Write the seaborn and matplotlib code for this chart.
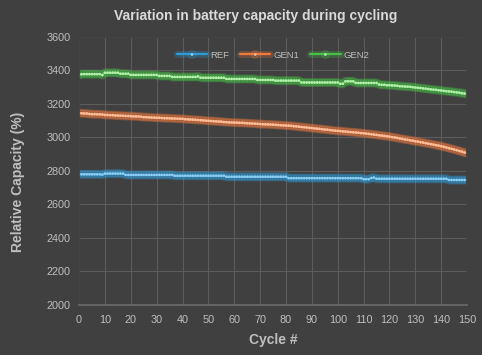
import numpy as np
import pandas as pd
import matplotlib
matplotlib.use("Agg")
import matplotlib.pyplot as plt
import matplotlib.patheffects as pe
import seaborn as sns

# -------------------------------
# Data
# -------------------------------
cycles = np.arange(0, 151)

ref = [
    2779, 2780, 2780, 2780, 2780, 2780, 2780, 2780, 2780, 2778,
    2784, 2784, 2784, 2784, 2784, 2784, 2784, 2784, 2776, 2776,
    2776, 2776, 2776, 2776, 2776, 2776, 2776, 2776, 2776, 2776,
    2776, 2776, 2776, 2776, 2776, 2776, 2776, 2771, 2771, 2771,
    2771, 2771, 2771, 2771, 2771, 2771, 2771, 2771, 2771, 2771,
    2771, 2771, 2771, 2771, 2771, 2771, 2771, 2765, 2765, 2765,
    2765, 2765, 2765, 2765, 2765, 2765, 2765, 2765, 2765, 2765,
    2765, 2765, 2765, 2765, 2765, 2765, 2765, 2765, 2765, 2765,
    2765, 2757, 2757, 2757, 2757, 2757, 2757, 2757, 2757, 2757,
    2757, 2757, 2757, 2757, 2757, 2757, 2757, 2757, 2757, 2757,
    2757, 2757, 2757, 2757, 2757, 2757, 2757, 2757, 2757, 2757,
    2751, 2751, 2751, 2758, 2760, 2753, 2753, 2753, 2753, 2753,
    2753, 2753, 2753, 2753, 2753, 2753, 2753, 2753, 2753, 2753,
    2753, 2753, 2753, 2753, 2753, 2753, 2753, 2753, 2753, 2753,
    2753, 2753, 2753, 2746, 2746, 2746, 2746, 2746, 2746, 2746,
    2746,
]

gen1 = [
    3146, 3144, 3143, 3143, 3140, 3139, 3139, 3138, 3138, 3137,
    3134, 3134, 3133, 3133, 3131, 3131, 3130, 3129, 3128, 3128,
    3127, 3126, 3125, 3125, 3123, 3121, 3121, 3120, 3119, 3118,
    3117, 3117, 3116, 3115, 3115, 3114, 3113, 3113, 3112, 3111,
    3111, 3109, 3108, 3107, 3106, 3105, 3104, 3103, 3102, 3100,
    3099, 3098, 3097, 3096, 3095, 3094, 3092, 3091, 3090, 3089,
    3089, 3088, 3087, 3087, 3086, 3085, 3084, 3083, 3082, 3081,
    3080, 3079, 3078, 3078, 3077, 3076, 3075, 3074, 3073, 3072,
    3071, 3070, 3069, 3067, 3066, 3064, 3062, 3061, 3059, 3057,
    3056, 3054, 3052, 3051, 3049, 3047, 3046, 3044, 3042, 3040,
    3039, 3038, 3036, 3035, 3033, 3032, 3031, 3029, 3028, 3026,
    3025, 3023, 3021, 3019, 3017, 3015, 3013, 3011, 3009, 3007,
    3005, 3002, 3000, 2997, 2994, 2991, 2988, 2986, 2983, 2980,
    2977, 2975, 2972, 2969, 2966, 2963, 2960, 2957, 2954, 2951,
    2948, 2944, 2940, 2936, 2932, 2928, 2924, 2919, 2915, 2910,
    2905,
]

gen2 = [
    3372, 3378, 3378, 3378, 3378, 3378, 3378, 3378, 3378, 3372,
    3386, 3386, 3386, 3386, 3386, 3386, 3380, 3380, 3380, 3380,
    3373, 3373, 3373, 3373, 3373, 3373, 3373, 3373, 3373, 3373,
    3373, 3367, 3367, 3367, 3367, 3367, 3361, 3361, 3361, 3361,
    3361, 3361, 3361, 3361, 3361, 3361, 3364, 3356, 3356, 3356,
    3356, 3356, 3356, 3356, 3356, 3356, 3356, 3349, 3349, 3349,
    3349, 3349, 3349, 3349, 3349, 3349, 3349, 3349, 3349, 3343,
    3343, 3343, 3343, 3343, 3343, 3343, 3339, 3339, 3339, 3339,
    3339, 3339, 3339, 3339, 3339, 3339, 3328, 3328, 3328, 3328,
    3328, 3328, 3328, 3328, 3328, 3328, 3328, 3328, 3328, 3328,
    3328, 3320, 3320, 3335, 3335, 3335, 3335, 3325, 3325, 3325,
    3325, 3325, 3325, 3325, 3325, 3325, 3316, 3314, 3314, 3312,
    3312, 3310, 3310, 3308, 3306, 3305, 3304, 3303, 3302, 3300,
    3298, 3296, 3295, 3293, 3291, 3289, 3287, 3285, 3284, 3282,
    3280, 3278, 3276, 3275, 3273, 3271, 3269, 3267, 3264, 3262,
    3258,
]

series_names = ["REF", "GEN1", "GEN2"]
line_colors = ["#2f9ad6", "#f07a3e", "#46c046"]
dot_colors = ["#8fd0f4", "#ffc2a0", "#b8f2b0"]

df = pd.DataFrame({"Cycle": cycles, "REF": ref, "GEN1": gen1, "GEN2": gen2})

# -------------------------------
# Style
# -------------------------------
bg = "#404040"
txt = "#bfbfbf"
sns.set_theme(style="darkgrid", rc={
    "figure.facecolor": bg,
    "axes.facecolor": bg,
    "axes.edgecolor": bg,
    "grid.color": "#5c5c5c",
    "grid.linewidth": 0.8,
    "text.color": txt,
    "xtick.color": txt,
    "ytick.color": txt,
    "axes.labelcolor": txt,
})
plt.rcParams["font.family"] = ["Liberation Sans", "DejaVu Sans"]

fig, ax = plt.subplots(figsize=(4.82, 3.55), dpi=100)
fig.subplots_adjust(left=0.164, right=0.969, top=0.896, bottom=0.141)

for name, lc, dc in zip(series_names, line_colors, dot_colors):
    sns.lineplot(data=df, x="Cycle", y=name, ax=ax, color=lc, linewidth=1.6,
                 marker="o", markersize=1.6, markerfacecolor=dc,
                 markeredgecolor=dc, markeredgewidth=0.3, label=name,
                 path_effects=[pe.Stroke(linewidth=5, foreground=lc, alpha=0.25),
                               pe.Normal()])

ax.set_xlim(0, 150)
ax.set_ylim(2000, 3600)
ax.set_xticks(np.arange(0, 151, 10))
ax.set_yticks(np.arange(2000, 3601, 200))
ax.tick_params(axis="x", length=0, labelsize=7.8, pad=7)
ax.tick_params(axis="y", length=0, labelsize=7.8, pad=6)
ax.spines["bottom"].set_visible(True)
ax.spines["bottom"].set_color("#6a6a6a")

# title / labels placed like the original (title centred on the whole chart area)
fig.text(0.531, 0.955, "Variation in battery capacity during cycling",
         ha="center", va="center", fontsize=10, fontweight="bold", color="#d9d9d9")
ax.set_xlabel("Cycle #", fontsize=10, fontweight="bold", color=txt, labelpad=6)
ax.set_ylabel("")
fig.text(0.037, 0.487, "Relative Capacity (%)", rotation=90, ha="center",
         va="center", fontsize=10, fontweight="bold", color=txt)

leg = ax.legend(loc="upper center", bbox_to_anchor=(0.5, 0.98), ncol=3,
                frameon=False, fontsize=6.8, handlelength=3.2, columnspacing=1.2,
                handletextpad=0.3)
for t in leg.get_texts():
    t.set_color(txt)

fig.savefig("out.png", dpi=100, facecolor=bg)
